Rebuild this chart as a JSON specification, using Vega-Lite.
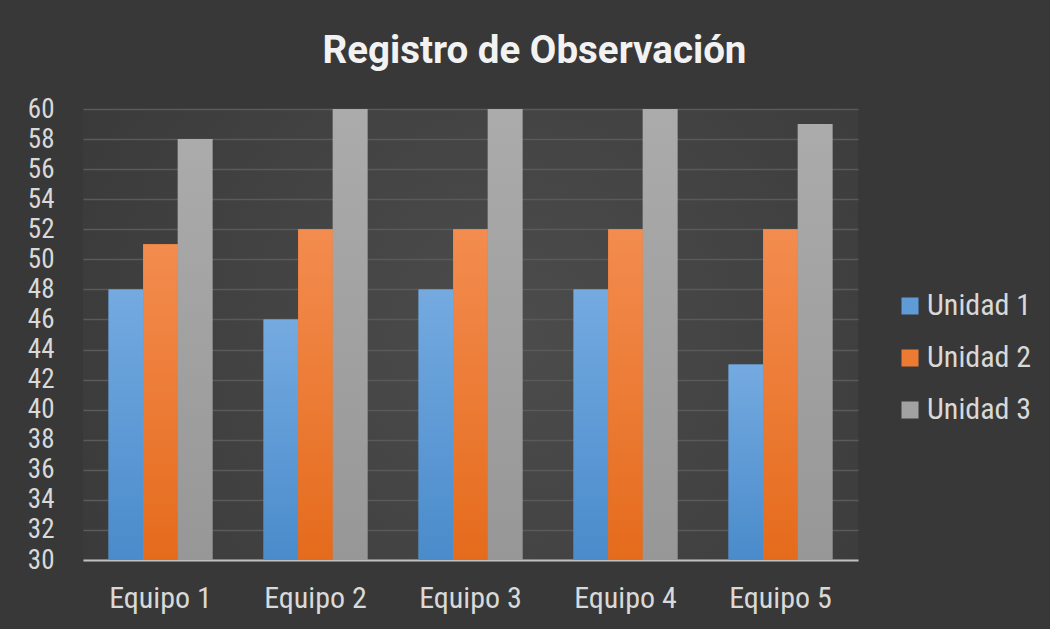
{
  "$schema": "https://vega.github.io/schema/vega-lite/v6.json",
  "autosize": {"type": "none"},
  "width": 775,
  "height": 451,
  "padding": {"left": 83, "top": 109, "right": 192, "bottom": 69},
  "background": "#383838",
  "title": {
    "text": "Registro de Observación",
    "font": "Roboto, sans-serif",
    "fontSize": 38.5,
    "fontWeight": "bold",
    "color": "#f2f2f2",
    "anchor": "middle",
    "frame": "group",
    "dx": 64,
    "offset": 24,
    "limit": 0
  },
  "config": {
    "view": {
      "stroke": null,
      "fill": {
        "gradient": "radial",
        "x1": 0.55, "y1": 0.5, "r1": 0,
        "x2": 0.55, "y2": 0.5, "r2": 0.7,
        "stops": [
          {"offset": 0, "color": "#4c4c4c"},
          {"offset": 1, "color": "#383838"}
        ]
      }
    }
  },
  "data": {
    "values": [
      {"equipo": "Equipo 1", "serie": "Unidad 1", "valor": 48},
      {"equipo": "Equipo 1", "serie": "Unidad 2", "valor": 51},
      {"equipo": "Equipo 1", "serie": "Unidad 3", "valor": 58},
      {"equipo": "Equipo 2", "serie": "Unidad 1", "valor": 46},
      {"equipo": "Equipo 2", "serie": "Unidad 2", "valor": 52},
      {"equipo": "Equipo 2", "serie": "Unidad 3", "valor": 60},
      {"equipo": "Equipo 3", "serie": "Unidad 1", "valor": 48},
      {"equipo": "Equipo 3", "serie": "Unidad 2", "valor": 52},
      {"equipo": "Equipo 3", "serie": "Unidad 3", "valor": 60},
      {"equipo": "Equipo 4", "serie": "Unidad 1", "valor": 48},
      {"equipo": "Equipo 4", "serie": "Unidad 2", "valor": 52},
      {"equipo": "Equipo 4", "serie": "Unidad 3", "valor": 60},
      {"equipo": "Equipo 5", "serie": "Unidad 1", "valor": 43},
      {"equipo": "Equipo 5", "serie": "Unidad 2", "valor": 52},
      {"equipo": "Equipo 5", "serie": "Unidad 3", "valor": 59}
    ]
  },
  "encoding": {
    "x": {
      "field": "equipo",
      "type": "nominal",
      "scale": {"paddingInner": 0.33, "paddingOuter": 0.165},
      "axis": {
        "title": null,
        "labelAngle": 0,
        "labelFont": "Roboto Condensed, DejaVu Sans Condensed, sans-serif",
        "labelFontSize": 30,
        "labelColor": "#d9d9d9",
        "labelPadding": 23,
        "ticks": false,
        "domain": true,
        "domainColor": "#bfbfbf",
        "domainWidth": 2,
        "grid": false
      }
    },
    "xOffset": {
      "field": "serie",
      "type": "nominal",
      "scale": {"domain": ["Unidad 1", "Unidad 2", "Unidad 3"], "paddingInner": 0, "paddingOuter": 0}
    },
    "y": {
      "field": "valor",
      "type": "quantitative",
      "scale": {"domain": [30, 60], "zero": false, "nice": false},
      "axis": {
        "title": null,
        "values": [30, 32, 34, 36, 38, 40, 42, 44, 46, 48, 50, 52, 54, 56, 58, 60],
        "labelFont": "Roboto Condensed, DejaVu Sans Condensed, sans-serif",
        "labelFontSize": 27,
        "labelColor": "#d9d9d9",
        "labelPadding": 29,
        "ticks": false,
        "domain": false,
        "grid": true,
        "gridColor": "#5a5a5a",
        "gridWidth": 1.5
      }
    },
    "y2": {"datum": 30}
  },
  "layer": [
    {
      "mark": {"type": "bar"},
      "encoding": {
        "color": {
          "field": "serie",
          "type": "nominal",
          "scale": {"domain": ["Unidad 1", "Unidad 2", "Unidad 3"], "range": ["#5e9bd7", "#ec7a33", "#a2a2a2"]},
          "legend": {
            "title": null,
            "orient": "none",
            "legendX": 812,
            "legendY": 182,
            "symbolType": "square",
            "symbolSize": 290,
            "symbolStrokeWidth": 0,
            "labelFont": "Roboto Condensed, DejaVu Sans Condensed, sans-serif",
            "labelFontSize": 30,
            "labelColor": "#d9d9d9",
            "labelOffset": 2,
            "rowPadding": 22,
            "labelLimit": 0
          }
        }
      }
    },
    {
      "transform": [{"filter": "datum.serie === 'Unidad 1'"}],
      "mark": {
        "type": "bar",
        "color": {
          "gradient": "linear", "x1": 0, "y1": 0, "x2": 0, "y2": 1,
          "stops": [{"offset": 0, "color": "#74aae0"}, {"offset": 1, "color": "#4a8bcb"}]
        }
      }
    },
    {
      "transform": [{"filter": "datum.serie === 'Unidad 2'"}],
      "mark": {
        "type": "bar",
        "color": {
          "gradient": "linear", "x1": 0, "y1": 0, "x2": 0, "y2": 1,
          "stops": [{"offset": 0, "color": "#f38c4f"}, {"offset": 1, "color": "#e56b1c"}]
        }
      }
    },
    {
      "transform": [{"filter": "datum.serie === 'Unidad 3'"}],
      "mark": {
        "type": "bar",
        "color": {
          "gradient": "linear", "x1": 0, "y1": 0, "x2": 0, "y2": 1,
          "stops": [{"offset": 0, "color": "#ababab"}, {"offset": 1, "color": "#979797"}]
        }
      }
    }
  ]
}
